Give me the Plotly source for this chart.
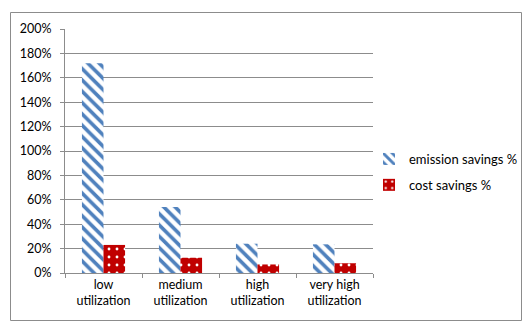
import plotly.graph_objects as go

categories = ["low<br>utilization", "medium<br>utilization", "high<br>utilization", "very high<br>utilization"]
emission_savings = [1.72, 0.54, 0.24, 0.235]
cost_savings = [0.23, 0.125, 0.07, 0.08]
y_ticks = [0, 0.2, 0.4, 0.6, 0.8, 1.0, 1.2, 1.4, 1.6, 1.8, 2.0]
y_tick_labels = [f"{int(round(v * 100))}%" for v in y_ticks]

W, H = 523, 322
ML, MR, MT, MB = 65, 150, 29, 49
PW, PH = W - ML - MR, H - MT - MB

BLUE = "#4F81BD"
RED = "#C00000"
GRID = "#8C8C8C"
FONT = "Lato, 'Open Sans', Arial, sans-serif"

fig = go.Figure()
fig.add_trace(go.Bar(
    x=categories, y=emission_savings, name="emission savings %",
    legendgroup="a",
    marker=dict(color="white", line=dict(width=0),
                pattern=dict(shape="\\", fgcolor=BLUE, bgcolor="white",
                             size=8, solidity=0.45, fillmode="replace")),
))
fig.add_trace(go.Bar(
    x=categories, y=cost_savings, name="cost savings %",
    legendgroup="b",
    marker=dict(color=RED, line=dict(width=0),
                pattern=dict(shape=".", fgcolor="white", bgcolor=RED,
                             size=8, solidity=0.1, fillmode="replace")),
))


def px_x(x):
    return (x - ML) / PW


def px_y(y):
    return (H - MB - y) / PH


fig.add_shape(type="rect", xref="paper", yref="paper",
              x0=px_x(10.5), x1=px_x(521.5), y0=px_y(320.5), y1=px_y(12.5),
              line=dict(color="#8C8C8C", width=1), fillcolor="rgba(0,0,0,0)", layer="below")

fig.update_layout(
    width=W, height=H,
    margin=dict(l=ML, r=MR, t=MT, b=MB, autoexpand=False),
    paper_bgcolor="white", plot_bgcolor="white",
    barmode="group", bargap=0.44, bargroupgap=0,
    font=dict(family=FONT, size=12.5, color="#000000"),
    showlegend=True,
    legend=dict(x=px_x(369), y=px_y(144), xanchor="left", yanchor="top",
                font=dict(size=13), tracegroupgap=6, itemwidth=30,
                bgcolor="rgba(0,0,0,0)"),
    xaxis=dict(showline=True, linecolor=GRID, linewidth=1, ticks="outside",
               ticklen=4, tickcolor=GRID, tickson="boundaries", showgrid=False,
               tickfont=dict(size=12.5, color="#000000")),
    yaxis=dict(range=[0, 2.0], tickvals=y_ticks, ticktext=y_tick_labels,
               showline=True, linecolor=GRID, linewidth=1, ticks="outside",
               ticklen=4, tickcolor=GRID, showgrid=True, gridcolor=GRID,
               gridwidth=1, zeroline=False, ticklabelstandoff=6,
               tickfont=dict(size=12.5, color="#000000")),
)

fig.write_html("out.html")
